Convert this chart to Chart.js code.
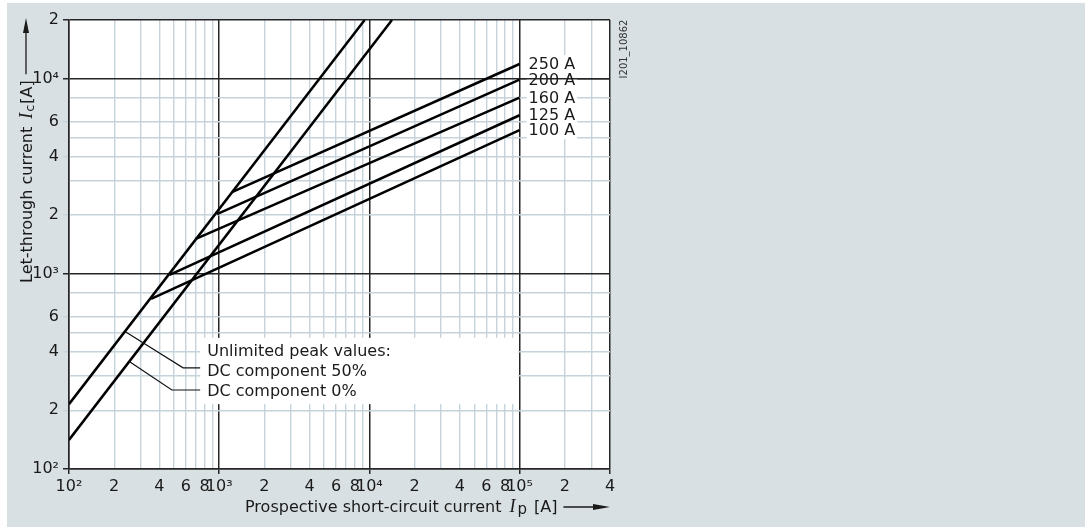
<!DOCTYPE html>
<html><head><meta charset="utf-8">
<script src="https://cdn.jsdelivr.net/npm/chart.js@4/dist/chart.umd.min.js"></script>
<style>html,body{margin:0;padding:0;background:#fff;overflow:hidden}canvas{display:block}</style>
</head><body>
<canvas id="c" width="1085" height="527"></canvas>
<script>
// ---- data ----
const ratings = ['250 A', '200 A', '160 A', '125 A', '100 A'];
const kinkIp  = [1216, 966, 692, 467, 352];
const kinkIc  = [2625, 2023, 1507, 988, 745];
const endIp   = [100000, 100000, 100000, 100000, 100000];
const endIc   = [11900, 9900, 8000, 6500, 5450];

const dc50Ip = [100, 9300];
const dc50Ic = [215, 20000];
const dc0Ip  = [100, 14140];
const dc0Ic  = [141, 20000];

const xTickValues = [100,200,300,400,500,600,700,800,900,
  1000,2000,3000,4000,5000,6000,7000,8000,9000,
  10000,20000,30000,40000,50000,60000,70000,80000,90000,
  100000,200000,300000,400000];
const xTickLabels = ['10²','2','','4','','6','','8','',
  '10³','2','','4','','6','','8','',
  '10⁴','2','','4','','6','','8','',
  '10⁵','2','','4'];
const xMajor = [100, 1000, 10000, 100000, 400000];

const yTickValues = [100,200,300,400,500,600,800,1000,2000,3000,4000,5000,6000,8000,10000,20000];
const yTickLabels = ['10²','2','','4','','6','','10³','2','','4','','6','','10⁴','2'];
const yMajor = [100, 1000, 10000, 20000];

const noteLines = ['Unlimited peak values:', 'DC component 50%', 'DC component 0%'];
const noteBoxIp = [747, 100000];
const noteBoxIc = [215, 470];
const leader50Ip = [236, 575, 747];
const leader50Ic = [507, 330, 330];
const leader0Ip  = [252, 484, 747];
const leader0Ic  = [356, 254, 254];

const xTitle = 'Prospective short-circuit current';
const yTitle = 'Let-through current';
const docId = 'I201_10862';

// ---- styles ----
const SANS = "'DejaVu Sans', sans-serif";
const TXT = '#1a1a1a';
const MAJOR = '#262626';
const MINOR = '#c6d3db';
const BG = '#d9e0e3';

const pts = (xs, ys) => xs.map((x, i) => ({x: x, y: ys[i]}));
const datasets = [
  {data: pts(dc50Ip, dc50Ic)},
  {data: pts(dc0Ip, dc0Ic)}
];
ratings.forEach((r, i) => datasets.push({label: r, data: [{x: kinkIp[i], y: kinkIc[i]}, {x: endIp[i], y: endIc[i]}]}));
datasets.forEach(d => Object.assign(d, {showLine: true, borderColor: '#000', borderWidth: 2.5, pointRadius: 0, tension: 0, fill: false}));

function gridStyle(major, labels, values, showMinorTick) {
  return {
    color: c => (c.tick && major.includes(c.tick.value)) ? MAJOR : MINOR,
    lineWidth: c => (c.tick && major.includes(c.tick.value)) ? 1.5 : 1.4,
    tickColor: c => {
      if (!c.tick) return 'rgba(0,0,0,0)';
      const i = values.indexOf(c.tick.value);
      if (major.includes(c.tick.value)) return MAJOR;
      if (showMinorTick && labels[i]) return MINOR;
      return 'rgba(0,0,0,0)';
    },
    tickWidth: c => (c.tick && major.includes(c.tick.value)) ? 1.5 : 1.4,
    drawTicks: true
  };
}

const decor = {
  id: 'decor',
  beforeDraw(chart) {
    const ctx = chart.ctx, a = chart.chartArea;
    ctx.save();
    ctx.fillStyle = '#ffffff'; ctx.fillRect(0, 0, chart.width, chart.height);
    ctx.fillStyle = BG; ctx.fillRect(7, 3, chart.width - 7, chart.height - 3);
    ctx.fillStyle = '#ffffff'; ctx.fillRect(a.left, a.top, a.right - a.left, a.bottom - a.top);
    ctx.restore();
  },
  beforeDatasetsDraw(chart) {
    const ctx = chart.ctx, a = chart.chartArea, sx = chart.scales.x, sy = chart.scales.y;
    ctx.save();
    ctx.fillStyle = '#ffffff';
    const bx0 = sx.getPixelForValue(noteBoxIp[0]), bx1 = sx.getPixelForValue(noteBoxIp[1]) - 1.5;
    const by0 = sy.getPixelForValue(noteBoxIc[1]), by1 = sy.getPixelForValue(noteBoxIc[0]);
    ctx.fillRect(bx0, by0, bx1 - bx0, by1 - by0);
    ctx.font = '16px ' + SANS;
    ratings.forEach((r, i) => {
      const lx = sx.getPixelForValue(endIp[i]) + 9, ly = sy.getPixelForValue(endIc[i]);
      const w = ctx.measureText(r).width;
      ctx.fillRect(lx - 2, ly - 9, w + 4, 18);
    });
    // redraw the 10^4 major line over the label backgrounds
    const y4 = sy.getPixelForValue(10000);
    ctx.strokeStyle = MAJOR; ctx.lineWidth = 1.5;
    ctx.beginPath(); ctx.moveTo(sx.getPixelForValue(100000), y4); ctx.lineTo(a.right, y4); ctx.stroke();
    ctx.restore();
  },
  afterDatasetsDraw(chart) {
    const ctx = chart.ctx, a = chart.chartArea, sx = chart.scales.x, sy = chart.scales.y;
    ctx.save();
    // leader lines
    ctx.strokeStyle = '#111'; ctx.lineWidth = 1.2;
    [[leader50Ip, leader50Ic], [leader0Ip, leader0Ic]].forEach(([xs, ys]) => {
      ctx.beginPath();
      xs.forEach((x, i) => {
        const px = sx.getPixelForValue(x), py = sy.getPixelForValue(ys[i]);
        if (i === 0) ctx.moveTo(px, py); else ctx.lineTo(px, py);
      });
      ctx.stroke();
    });
    // note text
    ctx.fillStyle = TXT; ctx.font = '16px ' + SANS; ctx.textBaseline = 'alphabetic'; ctx.textAlign = 'left';
    const nx = sx.getPixelForValue(noteBoxIp[0]) + 7;
    const ny = sy.getPixelForValue(noteBoxIc[1]);
    noteLines.forEach((t, i) => ctx.fillText(t, nx, ny + 18 + i * 20));
    // rating labels
    ctx.textBaseline = 'middle';
    ratings.forEach((r, i) => {
      ctx.fillText(r, sx.getPixelForValue(endIp[i]) + 9, sy.getPixelForValue(endIc[i]) + 1);
    });
    // x title
    ctx.textBaseline = 'alphabetic';
    let x = 245; const yb = 512;
    ctx.font = '16px ' + SANS; ctx.fillText(xTitle, x, yb); x += ctx.measureText(xTitle).width + 8;
    ctx.font = "italic 18px 'Liberation Serif', serif"; ctx.fillText('I', x, yb); x += ctx.measureText('I').width + 2;
    ctx.font = '15px ' + SANS; ctx.fillText('p', x, yb + 2); x += ctx.measureText('p').width + 7;
    ctx.font = '16px ' + SANS; ctx.fillText('[A]', x, yb); x += ctx.measureText('[A]').width + 6;
    const ay = 507;
    ctx.lineWidth = 1.3; ctx.strokeStyle = TXT;
    ctx.beginPath(); ctx.moveTo(x, ay); ctx.lineTo(a.right - 12, ay); ctx.stroke();
    ctx.beginPath(); ctx.moveTo(a.right, ay); ctx.lineTo(a.right - 17, ay - 3); ctx.lineTo(a.right - 17, ay + 3); ctx.closePath(); ctx.fill();
    // y title (rotated)
    ctx.save();
    ctx.translate(32, 283); ctx.rotate(-Math.PI / 2);
    let t = 0;
    ctx.font = '16px ' + SANS; ctx.fillText(yTitle, t, 0); t += ctx.measureText(yTitle).width + 8;
    ctx.font = "italic 18px 'Liberation Serif', serif"; ctx.fillText('I', t, 0); t += ctx.measureText('I').width + 1;
    ctx.font = '13px ' + SANS; ctx.fillText('c', t, 2); t += ctx.measureText('c').width + 1;
    ctx.font = '16px ' + SANS; ctx.fillText('[A]', t, 0); t += ctx.measureText('[A]').width + 6;
    const top = 283 - a.top + 2;
    ctx.beginPath(); ctx.moveTo(t, -6); ctx.lineTo(top - 12, -6); ctx.stroke();
    ctx.beginPath(); ctx.moveTo(top, -6); ctx.lineTo(top - 15, -9); ctx.lineTo(top - 15, -3); ctx.closePath(); ctx.fill();
    ctx.restore();
    // document id
    ctx.save();
    ctx.translate(627, 49); ctx.rotate(-Math.PI / 2);
    ctx.font = '10px ' + SANS; ctx.fillStyle = '#333'; ctx.textAlign = 'center'; ctx.textBaseline = 'alphabetic';
    ctx.fillText(docId, 0, 0);
    ctx.restore();
    ctx.restore();
  }
};

new Chart(document.getElementById('c'), {
  type: 'scatter',
  data: {datasets: datasets},
  options: {
    responsive: false,
    animation: false,
    events: [],
    layout: {padding: {left: 0, top: 20, right: 475, bottom: 0}},
    plugins: {legend: {display: false}, tooltip: {enabled: false}, title: {display: false}},
    scales: {
      x: {
        type: 'logarithmic', min: 100, max: 400000, bounds: 'data',
        afterBuildTicks: s => { s.ticks = xTickValues.map(v => ({value: v})); },
        afterFit: s => { s.height = 58; },
        ticks: {autoSkip: false, maxRotation: 0, minRotation: 0, padding: 3, color: TXT,
                font: {family: "'DejaVu Sans', sans-serif", size: 16},
                callback: (v, i) => xTickLabels[i]},
        grid: Object.assign(gridStyle(xMajor, xTickLabels, xTickValues, false), {tickLength: 5}),
        border: {display: true, color: MAJOR, width: 1.5}
      },
      y: {
        type: 'logarithmic', min: 100, max: 20000, bounds: 'data',
        afterBuildTicks: s => { s.ticks = yTickValues.map(v => ({value: v})); },
        afterFit: s => { s.width = 69; },
        ticks: {autoSkip: false, padding: 4, color: TXT,
                font: {family: "'DejaVu Sans', sans-serif", size: 16},
                callback: (v, i) => yTickLabels[i]},
        grid: Object.assign(gridStyle(yMajor, yTickLabels, yTickValues, true), {tickLength: 6}),
        border: {display: true, color: MAJOR, width: 1.5}
      }
    }
  },
  plugins: [decor]
});
</script>
</body></html>
